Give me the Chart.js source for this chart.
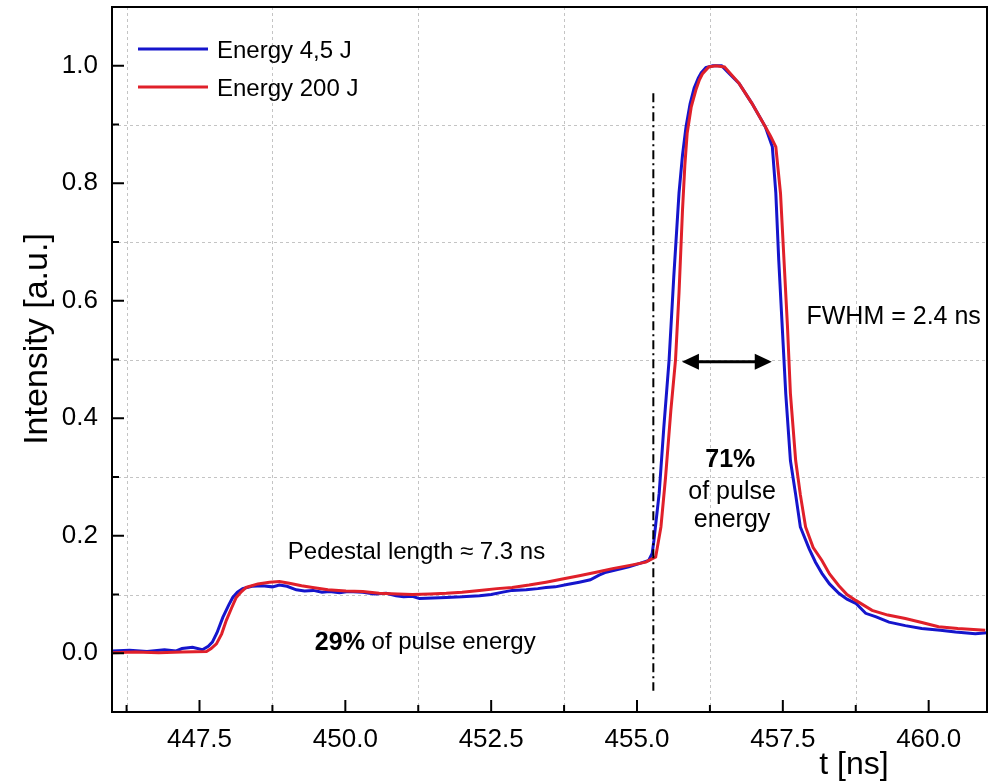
<!DOCTYPE html>
<html>
<head>
<meta charset="utf-8">
<script src="https://cdn.jsdelivr.net/npm/chart.js@4.4.1/dist/chart.umd.min.js"></script>
<style>
  html,body{margin:0;padding:0;background:#fff;}
  canvas{display:block;}
</style>
</head>
<body>
<canvas id="pulseChart" width="1002" height="782"></canvas>
<script>
// pulse shape, 4,5 J shot
const tBlue = [446.0,446.3,446.6,446.9,447.1,447.2,447.38,447.55,447.65,447.72,447.8,447.9,448.0,448.07,448.15,448.24,448.4,448.58,448.75,448.87,449.0,449.16,449.3,449.45,449.6,449.73,449.9,450.05,450.3,450.5,450.7,450.87,451.0,451.15,451.27,451.5,451.73,452.0,452.3,452.5,452.7,452.86,453.1,453.3,453.44,453.6,453.8,454.01,454.2,454.35,454.47,454.65,454.86,455.05,455.2,455.26,455.29,455.38,455.46,455.55,455.63,455.72,455.78,455.84,455.91,455.98,456.05,456.1,456.18,456.3,456.45,456.55,456.75,456.97,457.2,457.32,457.38,457.43,457.49,457.55,457.63,457.72,457.8,457.95,458.06,458.17,458.3,458.46,458.6,458.75,458.92,459.1,459.32,459.6,459.88,460.2,460.46,460.8,461.0];
const iBlue = [0.004,0.005,0.003,0.006,0.004,0.008,0.010,0.006,0.012,0.019,0.035,0.061,0.082,0.095,0.104,0.110,0.114,0.115,0.113,0.116,0.114,0.108,0.106,0.107,0.104,0.105,0.103,0.105,0.104,0.101,0.102,0.098,0.096,0.097,0.093,0.094,0.095,0.096,0.098,0.100,0.104,0.107,0.108,0.110,0.112,0.113,0.117,0.121,0.125,0.133,0.138,0.142,0.147,0.153,0.158,0.170,0.192,0.272,0.385,0.499,0.640,0.783,0.848,0.896,0.935,0.962,0.979,0.988,0.997,1.0,1.0,0.99,0.97,0.936,0.896,0.862,0.783,0.669,0.555,0.442,0.328,0.270,0.215,0.178,0.155,0.136,0.118,0.102,0.092,0.085,0.068,0.062,0.053,0.047,0.042,0.039,0.036,0.033,0.035];
// pulse shape, 200 J shot
const tRed = [446.0,446.4,446.8,447.2,447.62,447.7,447.79,447.88,447.96,448.05,448.13,448.22,448.3,448.5,448.7,448.87,449.04,449.25,449.44,449.7,450.01,450.3,450.58,450.9,451.15,451.45,451.73,452.0,452.3,452.6,452.86,453.15,453.44,453.7,454.01,454.3,454.58,454.9,455.15,455.32,455.41,455.49,455.58,455.66,455.72,455.78,455.82,455.86,455.93,456.01,456.07,456.12,456.23,456.35,456.5,456.75,456.97,457.2,457.29,457.38,457.46,457.52,457.58,457.63,457.72,457.8,457.89,458.02,458.17,458.3,458.46,458.6,458.75,459.03,459.3,459.6,459.9,460.17,460.5,460.97];
const iRed = [0.001,0.002,0.001,0.002,0.003,0.008,0.016,0.033,0.056,0.077,0.095,0.105,0.112,0.118,0.121,0.122,0.119,0.115,0.112,0.108,0.106,0.105,0.102,0.101,0.100,0.101,0.102,0.104,0.107,0.110,0.112,0.116,0.121,0.126,0.132,0.138,0.144,0.150,0.155,0.164,0.215,0.300,0.413,0.499,0.613,0.754,0.830,0.885,0.930,0.959,0.976,0.986,0.998,1.0,0.998,0.97,0.936,0.896,0.88,0.862,0.783,0.669,0.555,0.442,0.328,0.270,0.215,0.180,0.158,0.135,0.115,0.100,0.090,0.073,0.065,0.059,0.052,0.045,0.042,0.039];

const xTicks = [447.5, 450.0, 452.5, 455.0, 457.5, 460.0];
const xMinor = [446.25, 448.75, 451.25, 453.75, 456.25, 458.75];
const yTicks = [0.0, 0.2, 0.4, 0.6, 0.8, 1.0];
const yMinor = [0.1, 0.3, 0.5, 0.7, 0.9];

const pedestalEnd = 455.28;          // dash-dot split between pedestal and main pulse
const splitSpan = [0.953, -0.064];
const fwhmSpan = [455.77, 457.31];   // arrow ends
const fwhmLevel = 0.496;

const FONT = "'Liberation Sans', Arial, sans-serif";
Chart.defaults.font.family = FONT;
Chart.defaults.color = '#000';

function line(ctx, x1, y1, x2, y2){ ctx.beginPath(); ctx.moveTo(x1,y1); ctx.lineTo(x2,y2); ctx.stroke(); }
function head(ctx, x, y, dir){
  ctx.beginPath(); ctx.moveTo(x, y); ctx.lineTo(x - dir*17, y - 8); ctx.lineTo(x - dir*17, y + 8); ctx.closePath(); ctx.fill();
}
function txt(ctx, s, x, y, size, bold, align){
  ctx.font = (bold ? 'bold ' : '') + size + 'px ' + FONT;
  ctx.textAlign = align || 'center'; ctx.textBaseline = 'middle';
  ctx.fillText(s, x, y);
}
function noPad(s){ s.paddingTop = 0; s.paddingBottom = 0; s.paddingLeft = 0; s.paddingRight = 0; }

const deco = {
  id: 'deco',
  beforeDatasetsDraw(c){
    const {ctx, chartArea:a, scales:{x, y}} = c;
    ctx.save();
    ctx.strokeStyle = '#c4c4c4'; ctx.lineWidth = 1; ctx.setLineDash([3,3]);
    xMinor.forEach(v=>{ const px = Math.round(x.getPixelForValue(v)) + 0.5; line(ctx, px, a.top, px, a.bottom); });
    yMinor.forEach(v=>{ const py = Math.round(y.getPixelForValue(v)) + 0.5; line(ctx, a.left, py, a.right, py); });
    ctx.restore();
  },
  afterDraw(c){
    const {ctx, chartArea:a, scales:{x, y}} = c;
    ctx.save();
    ctx.strokeStyle = '#000'; ctx.fillStyle = '#000';

    // frame and inward ticks
    ctx.lineWidth = 2;
    ctx.strokeRect(a.left, a.top, a.right - a.left, a.bottom - a.top);
    xTicks.forEach(v=>{ const px = x.getPixelForValue(v); line(ctx, px, a.bottom, px, a.bottom - 12); });
    xMinor.forEach(v=>{ const px = x.getPixelForValue(v); line(ctx, px, a.bottom, px, a.bottom - 7); });
    yTicks.forEach(v=>{ const py = y.getPixelForValue(v); line(ctx, a.left, py, a.left + 12, py); });
    yMinor.forEach(v=>{ const py = y.getPixelForValue(v); line(ctx, a.left, py, a.left + 7, py); });

    // pedestal / main pulse split
    ctx.setLineDash([9,4,2,4]);
    const sx = x.getPixelForValue(pedestalEnd);
    line(ctx, sx, y.getPixelForValue(splitSpan[0]), sx, y.getPixelForValue(splitSpan[1]));
    ctx.setLineDash([]);

    // FWHM arrow
    const ax1 = x.getPixelForValue(fwhmSpan[0]), ax2 = x.getPixelForValue(fwhmSpan[1]), ay = y.getPixelForValue(fwhmLevel);
    ctx.lineWidth = 3;
    line(ctx, ax1 + 10, ay, ax2 - 10, ay);
    head(ctx, ax1, ay, -1); head(ctx, ax2, ay, 1);

    // annotations
    txt(ctx, 'FWHM = 2.4 ns', x.getPixelForValue(459.4), y.getPixelForValue(0.572), 25);
    txt(ctx, '71%', x.getPixelForValue(456.6), y.getPixelForValue(0.328), 25, true);
    txt(ctx, 'of pulse', x.getPixelForValue(456.63), y.getPixelForValue(0.274), 25);
    txt(ctx, 'energy', x.getPixelForValue(456.63), y.getPixelForValue(0.226), 25);
    txt(ctx, 'Pedestal length \u2248 7.3 ns', x.getPixelForValue(451.22), y.getPixelForValue(0.1715), 24);
    ctx.font = 'bold 25px ' + FONT;
    const w1 = ctx.measureText('29%').width;
    ctx.font = '24px ' + FONT;
    const w2 = ctx.measureText(' of pulse energy').width;
    const lx = x.getPixelForValue(451.37) - (w1 + w2) / 2, ly = y.getPixelForValue(0.018);
    txt(ctx, '29%', lx, ly, 25, true, 'left');
    txt(ctx, ' of pulse energy', lx + w1, ly, 24, false, 'left');

    // legend
    ctx.lineWidth = 3;
    c.data.datasets.forEach((d, i)=>{
      const ly = a.top + 42 + i * 38;
      ctx.strokeStyle = d.borderColor;
      line(ctx, a.left + 26, ly, a.left + 96, ly);
      txt(ctx, d.label, a.left + 105, ly + 2, 24, false, 'left');
    });

    // axis titles
    ctx.font = '32px ' + FONT; ctx.textAlign = 'center'; ctx.textBaseline = 'alphabetic';
    ctx.fillText('t [ns]', 854, 774);
    ctx.translate(47, 339); ctx.rotate(-Math.PI / 2);
    ctx.font = '34px ' + FONT;
    ctx.fillText('Intensity [a.u.]', 0, 0);
    ctx.restore();
  }
};

new Chart(document.getElementById('pulseChart'), {
  type: 'line',
  data: {
    datasets: [
      { label: 'Energy 4,5 J', data: tBlue.map((t, k)=>({x: t, y: iBlue[k]})), borderColor: '#1515cc', borderWidth: 3, pointRadius: 0, tension: 0, order: 2 },
      { label: 'Energy 200 J', data: tRed.map((t, k)=>({x: t, y: iRed[k]})), borderColor: '#e0202a', borderWidth: 3, pointRadius: 0, tension: 0, order: 1 }
    ]
  },
  options: {
    responsive: false,
    animation: false,
    layout: { padding: { top: 7, right: 15, left: 0, bottom: 0 } },
    plugins: { legend: { display: false }, tooltip: { enabled: false } },
    scales: {
      x: {
        type: 'linear', min: 446, max: 461,
        afterBuildTicks: s => { s.ticks = xTicks.map(v=>({value: v})); },
        afterFit: s => { s.height = 70; noPad(s); },
        grid: { display: false, drawTicks: false }, border: { display: false },
        ticks: { font: { size: 26 }, padding: 12, maxRotation: 0, callback: v => v.toFixed(1) }
      },
      y: {
        min: -0.1, max: 1.1,
        afterBuildTicks: s => { s.ticks = yTicks.map(v=>({value: v})); },
        afterFit: s => { s.width = 112; noPad(s); },
        grid: { display: false, drawTicks: false }, border: { display: false },
        ticks: { font: { size: 26 }, padding: 14, callback: v => v.toFixed(1) }
      }
    }
  },
  plugins: [deco]
});
</script>
</body>
</html>
